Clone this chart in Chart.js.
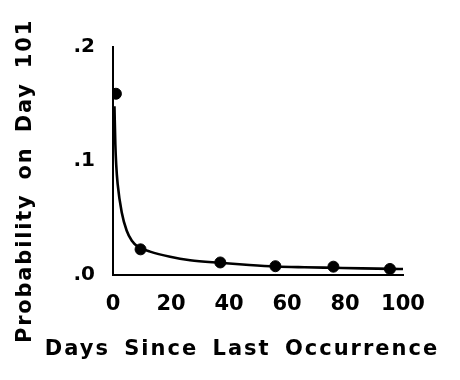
<!DOCTYPE html>
<html>
<head>
<meta charset="utf-8">
<script src="https://cdn.jsdelivr.net/npm/chart.js@4.4.1/dist/chart.umd.min.js"></script>
<style>
  html, body { margin: 0; padding: 0; background: #fff; }
  #wrap { width: 460px; height: 380px; position: relative; }
</style>
</head>
<body>
<div id="wrap"><canvas id="c" width="460" height="380"></canvas></div>
<script>
// Observed data points (days since last occurrence, probability on day 101)
const pointDays = [1, 9.5, 37, 56, 76, 95.5];
const pointProbs = [0.159, 0.0225, 0.011, 0.0077, 0.0073, 0.0053];

// Fitted curve
const curveDays = [0.5, 0.8, 1.1, 1.6, 3.0, 4.7, 6.5, 8.5, 12.8, 19.7, 26.6, 36.7, 47, 56, 66, 76, 86, 96, 100];
const curveProbs = [0.148, 0.115, 0.097, 0.080, 0.055, 0.039, 0.030, 0.025, 0.0205, 0.016, 0.013, 0.0107, 0.0088, 0.0075, 0.0068, 0.0063, 0.0058, 0.0054, 0.0052];

// Axis ticks
const xTicks = [0, 20, 40, 60, 80, 100];
const yTicks = [0, 0.1, 0.2];
const yTickLabels = ['.0', '.1', '.2'];

const xTitle = 'Days Since Last Occurrence';
const yTitle = 'Probability on Day 101';

const FONT = 'DejaVu Sans';

const titlesPlugin = {
  id: 'axisTitles',
  afterDraw(chart) {
    const ctx = chart.ctx;
    // y-axis title
    ctx.save();
    ctx.font = 'bold 21px "' + FONT + '"';
    ctx.fillStyle = '#000';
    ctx.textAlign = 'center';
    ctx.textBaseline = 'middle';
    ctx.letterSpacing = '1.8px';
    ctx.wordSpacing = '5px';
    ctx.translate(26, 181);
    ctx.rotate(-Math.PI / 2);
    ctx.fillText(yTitle, 0, 0);
    ctx.restore();
    // x-axis title
    ctx.save();
    ctx.font = 'bold 21px "' + FONT + '"';
    ctx.fillStyle = '#000';
    ctx.textAlign = 'center';
    ctx.textBaseline = 'middle';
    ctx.letterSpacing = '2px';
    ctx.wordSpacing = '5px';
    ctx.fillText(xTitle, 242, 350);
    ctx.restore();
  }
};

new Chart(document.getElementById('c'), {
  data: {
    datasets: [
      {
        type: 'line',
        data: curveDays.map((d, i) => ({ x: d, y: curveProbs[i] })),
        borderColor: '#000',
        borderWidth: 2.6,
        pointRadius: 0,
        cubicInterpolationMode: 'monotone',
        fill: false
      },
      {
        type: 'scatter',
        data: pointDays.map((d, i) => ({ x: d, y: pointProbs[i] })),
        backgroundColor: '#000',
        borderColor: '#000',
        pointRadius: 5.5
      }
    ]
  },
  options: {
    responsive: false,
    animation: false,
    devicePixelRatio: 1,
    layout: { padding: { left: 40, top: 47, right: 57, bottom: 0 } },
    plugins: { legend: { display: false }, tooltip: { enabled: false } },
    scales: {
      x: {
        type: 'linear',
        min: 0,
        max: 100,
        afterBuildTicks: (s) => { s.ticks = xTicks.map(v => ({ value: v })); },
        afterFit: (s) => { s.height = 105; },
        grid: { display: false, drawTicks: false },
        border: { display: true, color: '#000', width: 2 },
        ticks: {
          padding: 17,
          color: '#000',
          font: { family: FONT, size: 21, weight: 'bold' },
          callback: (v) => String(v)
        }
      },
      y: {
        type: 'linear',
        min: 0,
        max: 0.2,
        afterBuildTicks: (s) => { s.ticks = yTicks.map(v => ({ value: v })); },
        afterFit: (s) => { s.width = 73; },
        grid: { display: false, drawTicks: false },
        border: { display: true, color: '#000', width: 2 },
        ticks: {
          padding: 18,
          color: '#000',
          font: { family: FONT, size: 20, weight: 'bold' },
          callback: (v) => yTickLabels[yTicks.indexOf(Math.round(v * 10) / 10)]
        }
      }
    }
  },
  plugins: [titlesPlugin]
});
</script>
</body>
</html>
